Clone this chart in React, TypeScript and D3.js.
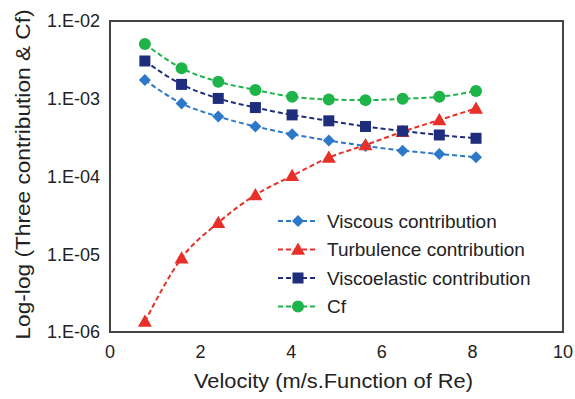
import React from "react";
import * as d3 from "d3";

const velocity = [0.77, 1.58, 2.39, 3.21, 4.02, 4.83, 5.64, 6.46, 7.27, 8.08];
const viscous = [1.74e-3, 8.7e-4, 5.9e-4, 4.4e-4, 3.5e-4, 2.9e-4, 2.47e-4, 2.15e-4, 1.95e-4, 1.77e-4];
const turbulence = [1.36e-6, 8.9e-6, 2.55e-5, 5.8e-5, 1.02e-4, 1.75e-4, 2.54e-4, 3.77e-4, 5.33e-4, 7.5e-4];
const viscoelastic = [3.06e-3, 1.53e-3, 1.01e-3, 7.7e-4, 6.2e-4, 5.2e-4, 4.4e-4, 3.85e-4, 3.42e-4, 3.1e-4];
const cf = [5.06e-3, 2.47e-3, 1.66e-3, 1.3e-3, 1.06e-3, 9.8e-4, 9.6e-4, 1.0e-3, 1.06e-3, 1.26e-3];

const seriesNames = ["Viscous contribution", "Turbulence contribution", "Viscoelastic contribution", "Cf"];
const xTicks = [0, 2, 4, 6, 8, 10];
const yTicks = [1e-6, 1e-5, 1e-4, 1e-3, 1e-2];
const yTickLabels = ["1.E-06", "1.E-05", "1.E-04", "1.E-03", "1.E-02"];

const W = 575, H = 399;
const M = { left: 110, top: 21, right: 563, bottom: 332 };
const FONT = "'Liberation Sans', Arial, sans-serif";

export default function App() {
  const x = d3.scaleLinear().domain([0, 10]).range([M.left, M.right]);
  const y = d3.scaleLog().domain([1e-6, 1e-2]).range([M.bottom, M.top]);

  const series = [
    { name: seriesNames[0], values: viscous, color: "#2d78c8", shape: "diamond" },
    { name: seriesNames[1], values: turbulence, color: "#e8302a", shape: "triangle" },
    { name: seriesNames[2], values: viscoelastic, color: "#1f2d7d", shape: "square" },
    { name: seriesNames[3], values: cf, color: "#1fb44a", shape: "circle" },
  ];

  const line = d3.line<[number, number]>().x(d => x(d[0])).y(d => y(d[1])).curve(d3.curveMonotoneX);

  const marker = (shape: string, cx: number, cy: number, color: string, key: string) => {
    if (shape === "diamond") {
      const s = 6;
      return <path key={key} d={`M${cx},${cy - s}L${cx + s},${cy}L${cx},${cy + s}L${cx - s},${cy}Z`} fill={color} />;
    }
    if (shape === "triangle") {
      const s = 7;
      return <path key={key} d={`M${cx},${cy - s}L${cx + s},${cy + s * 0.75}L${cx - s},${cy + s * 0.75}Z`} fill={color} />;
    }
    if (shape === "square") {
      const s = 5.5;
      return <rect key={key} x={cx - s} y={cy - s} width={2 * s} height={2 * s} fill={color} />;
    }
    return <circle key={key} cx={cx} cy={cy} r={6} fill={color} />;
  };

  const legendX = 278, legendTextX = 327, legendY0 = 221, legendDy = 28.5;

  return (
    <svg width={W} height={H} style={{ position: "absolute", left: 0, top: 0, background: "#fff" }} fontFamily={FONT}>
      <rect x={0} y={0} width={W} height={H} fill="#fff" />
      <rect x={M.left} y={M.top} width={M.right - M.left} height={M.bottom - M.top} fill="none" stroke="#444" strokeWidth={2} />
      {yTicks.map((t, i) => (
        <text key={"yt" + i} x={100} y={y(t)} dy="0.36em" textAnchor="end" fontSize={18} fill="#222">{yTickLabels[i]}</text>
      ))}
      {xTicks.map((t, i) => (
        <text key={"xt" + i} x={x(t)} y={358} textAnchor="middle" fontSize={18} fill="#222">{t}</text>
      ))}
      <text x={(M.left + M.right) / 2 - 3} y={388} textAnchor="middle" fontSize={20} fill="#222" textLength={279} lengthAdjust="spacingAndGlyphs">Velocity (m/s.Function of Re)</text>
      <text transform={`translate(30,${(M.top + M.bottom) / 2 - 2}) rotate(-90)`} textAnchor="middle" fontSize={20} fill="#222" textLength={330} lengthAdjust="spacingAndGlyphs">Log-log (Three contribution &amp; Cf)</text>
      {series.map((s, si) => {
        const pts: [number, number][] = velocity.map((v, i) => [v, s.values[i]]);
        return (
          <g key={"s" + si}>
            <path d={line(pts) || ""} fill="none" stroke={s.color} strokeWidth={2} strokeDasharray="5,3" />
            {pts.map((p, i) => marker(s.shape, x(p[0]), y(p[1]), s.color, `m${si}-${i}`))}
          </g>
        );
      })}
      {series.map((s, si) => {
        const ly = legendY0 + si * legendDy;
        return (
          <g key={"l" + si}>
            <line x1={legendX} x2={legendX + 40} y1={ly} y2={ly} stroke={s.color} strokeWidth={2} strokeDasharray="5,3" />
            {marker(s.shape, legendX + 20, ly, s.color, "lm" + si)}
            <text x={legendTextX} y={ly} dy="0.36em" fontSize={19} fill="#222">{s.name}</text>
          </g>
        );
      })}
    </svg>
  );
}
